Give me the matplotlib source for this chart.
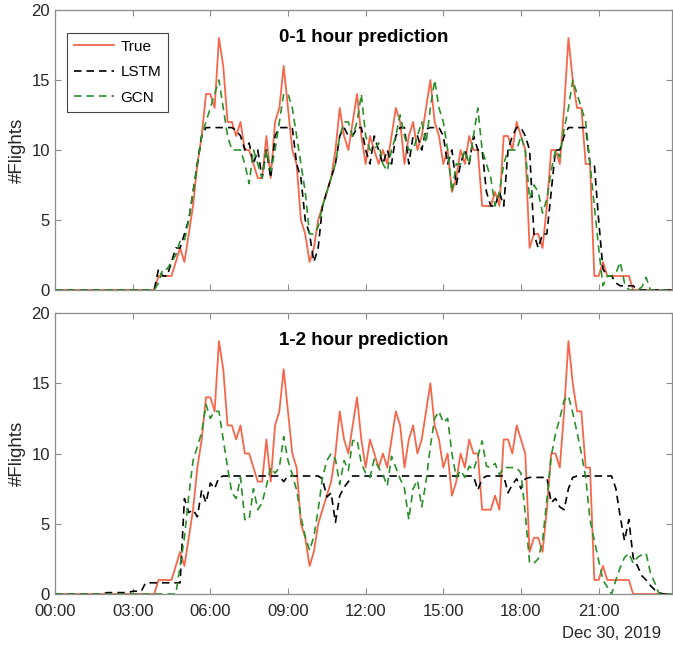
# Flights per 10 min : true vs LSTM / GCN predictions, two horizons
import numpy as np
import matplotlib
matplotlib.use("Agg")
import matplotlib.pyplot as plt

plt.rcParams['font.family'] = ['Liberation Sans', 'DejaVu Sans']

# --- data (one value every 10 minutes, 00:00 -> 23:50) ---
hours = np.arange(144) / 6.0

true_flights = [0]*24 + [
    1, 1, 1, 1, 2, 3, 2, 4, 6, 9, 11, 14,
    14, 13, 18, 16, 12, 12, 11, 12, 10, 10, 9, 8,
    8, 11, 8, 12, 13, 16, 13, 10, 9, 5, 4, 2,
    3, 5, 6, 7, 8, 10, 13, 11, 10, 12, 14, 11,
    9, 11, 10, 9, 10, 9, 11, 13, 12, 9, 11, 12,
    10, 11, 13, 15, 12, 11, 9, 10, 7, 8, 10, 9,
    11, 10, 10, 6, 6, 6, 7, 6, 11, 11, 10, 12,
    11, 10, 3, 4, 4, 3, 6, 10, 10, 9, 13, 18,
    15, 13, 13, 9, 9, 1, 1, 2, 1, 1, 1, 1,
    1, 1, 0, 0, 0, 0, 0, 0, 0, 0, 0, 0]

lstm_1h = [0]*24 + [
    1.5, 1, 1, 2, 3, 3, 4, 5, 7, 9, 11, 11.6,
    11.6, 11.6, 11.6, 11.6, 11.6, 11.6, 11.4, 11, 10, 10.5, 9, 10,
    8, 10, 8, 11, 11.6, 11.6, 11.6, 11.6, 9, 8, 5, 4,
    2, 3, 6, 7, 8, 9, 11, 11.6, 11, 11, 11.6, 11.6,
    10, 9, 11, 10, 9, 10, 9, 11, 11.6, 11.6, 9, 11,
    11, 10, 11.5, 11.6, 11.6, 11.6, 11, 9, 10, 7.5, 9, 10,
    9, 11, 10, 10, 7, 6, 6, 7, 6, 10, 11, 11.6,
    11.6, 11, 10, 4, 3, 4, 4, 7, 10, 10, 11, 11.6,
    11.6, 11.6, 11.6, 11.6, 9, 9, 5, 1.5, 1, 1, 0.5, 0.3,
    0.3, 0.3, 0.3, 0, 0, 0, 0, 0, 0, 0, 0, 0]

gcn_1h = [0]*24 + [
    0.5, 1.5, 1.5, 2, 2.5, 3.5, 3.5, 5, 7, 9, 11, 12,
    13, 14, 15, 13, 11, 10, 10, 10, 9, 7.6, 10, 9,
    8, 10, 8.5, 10, 12, 14, 14, 13, 11, 9, 7, 4,
    4, 4.5, 6, 7, 8, 9, 11, 12, 12, 11, 12, 14,
    11, 10, 10, 10.5, 9, 8.5, 10, 11, 12.5, 11, 10, 10,
    11, 12, 10.5, 13, 15, 13, 12, 10, 7, 9, 9, 10,
    9, 11, 13, 10, 9, 8, 6, 7, 9, 10, 10, 10,
    11, 10, 6.5, 7.5, 7, 5.5, 6.5, 8.5, 10, 9.5, 11.5, 13,
    15, 14, 13, 12, 9, 6, 3, 0.3, 1, 1, 1.2, 2,
    0.5, 0, 0, 0, 0.2, 0.9, 0, 0, 0, 0, 0, 0]

lstm_2h = [0]*12 + [
    0.1, 0.1, 0.1, 0.1, 0.1, 0.1, 0.2, 0.2, 0.2, 0.8, 0.8, 0.8,
    0.8, 0.8, 0.8, 0.8, 0.8, 0.8, 6.8, 5.8, 6, 5.5, 7.4, 6.5,
    7.9, 7.5, 8.3, 8.4, 8.4, 8.4, 8.4, 8.4, 8.4, 8.4, 8.4, 8.4,
    8.4, 8.4, 8.4, 8.4, 8.4, 8.0, 8.4, 8.4, 8.4, 8.4, 8.4, 8.4,
    8.4, 8.4, 8.2, 6.9, 7.2, 5.1, 7, 7.6, 8, 8.4, 8.4, 8.4,
    8.4, 8.4, 8.4, 8.4, 8.4, 8.4, 8.4, 8.4, 8.4, 8.4, 8.4, 8.4,
    8.4, 8.4, 8.4, 8.4, 8.4, 8.4, 8.4, 8.4, 8.4, 8.4, 8.4, 8.4,
    8.4, 8.4, 7.4, 8.2, 8.4, 8.4, 8.4, 8.4, 8.4, 7.2, 7.8, 8.2,
    7.5, 8.2, 8.3, 8.3, 8.3, 8.3, 8.3, 6.5, 6.8, 6.2, 6, 7.5,
    8.3, 8.4, 8.4, 8.4, 8.4, 8.4, 8.4, 8.4, 8.4, 8.4, 7.5, 5.5,
    3.8, 5.3, 2.6, 2, 1.3, 1, 0.6, 0.3, 0.1, 0, 0, 0]

gcn_2h = [0]*24 + [
    0, 0, 0, 0, 0, 2, 4, 7, 9.5, 10.5, 11.5, 13.5,
    12.5, 13, 13, 11, 9, 7.2, 6.8, 8.3, 5.3, 5.3, 7.5, 6,
    6.5, 7.7, 9, 8.6, 9, 11.2, 9.5, 8.5, 7.4, 5.5, 4.1, 3.1,
    4.1, 6, 8.3, 9.5, 10, 9.6, 7.8, 9.5, 8.8, 10.9, 11, 9.3,
    8.6, 8.3, 9.6, 9, 8.5, 7.7, 9.8, 9, 8.2, 7.5, 5.3, 7.5,
    8.1, 6.2, 8, 10.5, 12.5, 13, 12.2, 12.5, 10, 8.3, 8.8, 8.3,
    9.1, 8.8, 9.8, 10.9, 9.1, 9, 9.3, 8.5, 9, 9, 9, 9,
    8.6, 5.7, 2.2, 2.2, 2.5, 3.8, 6.7, 9.8, 11.4, 12.5, 13.8, 14.1,
    12.9, 11.5, 10, 8.3, 5.3, 3.8, 2.4, 1, 0.5, 0, 1, 1.9,
    2.6, 2.9, 2.2, 2.6, 2.8, 2.9, 1.5, 0.8, 0, 0, 0, 0]

tick_hours = [0, 3, 6, 9, 12, 15, 18, 21]
tick_labels = ['00:00', '03:00', '06:00', '09:00', '12:00', '15:00', '18:00', '21:00']
titles = ['0-1 hour prediction', '1-2 hour prediction']

red = '#f5674a'
green = '#2a912a'
axcol = '#8c8c8c'
txtcol = '#262626'

fig = plt.figure(figsize=(6.73, 6.49), dpi=100)
ax1 = fig.add_axes([0.0817, 0.5532, 0.9168, 0.4314])
ax2 = fig.add_axes([0.0817, 0.0847, 0.9168, 0.4330])

for ax, lstm, gcn, title in [(ax1, lstm_1h, gcn_1h, titles[0]),
                             (ax2, lstm_2h, gcn_2h, titles[1])]:
    ax.plot(hours, true_flights, color=red, lw=1.3, label='True')
    ax.plot(hours, lstm, color='black', lw=1.2, ls=(0, (4.5, 3)), label='LSTM')
    ax.plot(hours, gcn, color=green, lw=1.2, ls=(0, (4.5, 3)), label='GCN')
    ax.set_xlim(0, 143/6)
    ax.set_ylim(0, 20)
    ax.set_yticks([0, 5, 10, 15, 20])
    ax.set_xticks(tick_hours)
    ax.tick_params(direction='in', top=True, right=True, length=4,
                   color=axcol, labelcolor=txtcol, labelsize=12)
    ax.tick_params(axis='x', pad=7)
    for sp in ax.spines.values():
        sp.set_color(axcol)
        sp.set_linewidth(0.9)
    ax.set_ylabel('#Flights', fontsize=13.5, color=txtcol, labelpad=4)
    ax.text(0.5, 0.902, title, transform=ax.transAxes, ha='center', va='center',
            fontsize=13.5, fontweight='bold', color='black')

ax1.set_xticklabels([])
ax2.set_xticklabels(tick_labels)

leg = ax1.legend(loc='upper left', bbox_to_anchor=(0.0195, 0.918), borderaxespad=0,
                 fontsize=11, handlelength=2.6, handletextpad=0.45, borderpad=0.45,
                 labelspacing=0.75, fancybox=False, framealpha=1, edgecolor='#444444')
leg.get_frame().set_linewidth(0.8)

fig.text(661/673, 1 - 634/649, 'Dec 30, 2019', ha='right', va='center',
         fontsize=12, color=txtcol)

fig.savefig('out.png', dpi=100)
